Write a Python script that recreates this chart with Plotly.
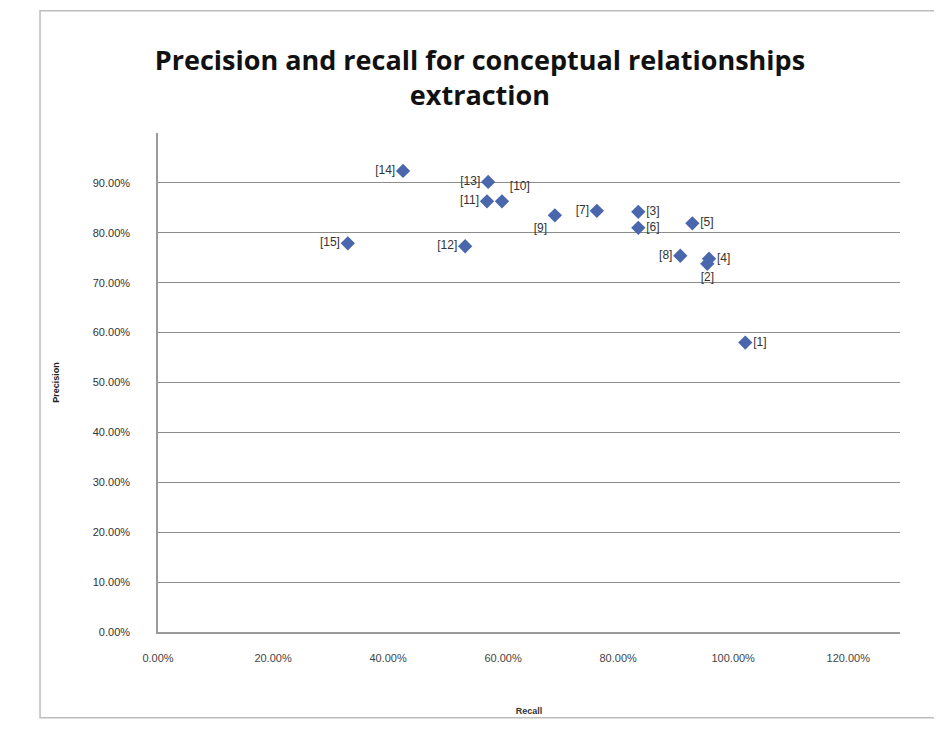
import plotly.graph_objects as go

# Data (recall, precision as fractions)
labels = ["[1]", "[2]", "[3]", "[4]", "[5]", "[6]", "[7]", "[8]",
          "[9]", "[10]", "[11]", "[12]", "[13]", "[14]", "[15]"]
recall = [1.021, 0.955, 0.835, 0.958, 0.929, 0.835, 0.763, 0.908,
          0.690, 0.598, 0.572, 0.534, 0.574, 0.426, 0.330]
precision = [0.580, 0.738, 0.842, 0.748, 0.819, 0.810, 0.844, 0.754,
             0.835, 0.863, 0.863, 0.773, 0.902, 0.924, 0.779]
label_pos = ["middle right", "bottom center", "middle right", "middle right",
             "middle right", "middle right", "middle left", "middle left",
             "bottom left", "top right", "middle left", "middle left",
             "middle left", "middle left", "middle left"]

x_ticks = [0, 0.2, 0.4, 0.6, 0.8, 1.0, 1.2]
y_ticks = [0, 0.1, 0.2, 0.3, 0.4, 0.5, 0.6, 0.7, 0.8, 0.9]

fig = go.Figure()
fig.add_trace(go.Scatter(
    x=recall, y=precision, mode="markers+text",
    text=labels, textposition=label_pos,
    textfont=dict(family="Liberation Sans", size=12, color="#333333"),
    marker=dict(symbol="diamond", size=11, color="#4A66AC",
                line=dict(width=0)),
    showlegend=False, cliponaxis=False,
))

fig.update_layout(
    width=942, height=731,
    paper_bgcolor="white", plot_bgcolor="white",
    margin=dict(l=150, r=50, t=125, b=107),
    title=dict(
        text="<b>Precision and recall for conceptual relationships<br>extraction</b>",
        x=0.501, xanchor="center", y=0.915, yanchor="top",
        font=dict(family="Open Sans", size=27, color="#111111"),
    ),
    xaxis=dict(
        range=[0, 1.29], tickvals=x_ticks, tickformat=".2%",
        showgrid=False, zeroline=False,
        showline=True, linecolor="#9a9a9a", linewidth=1.5,
        ticks="", ticklabelstandoff=15,
        tickfont=dict(family="Liberation Sans", size=11, color="#444444"),
        title=dict(text="<b>Recall</b>", standoff=45,
                   font=dict(family="Liberation Sans", size=9, color="#333333")),
    ),
    yaxis=dict(
        range=[0, 1.0], tickvals=y_ticks, tickformat=".2%",
        showgrid=True, gridcolor="#8c8c8c", gridwidth=1.2,
        zeroline=False, showline=True, linecolor="#9a9a9a", linewidth=1.5,
        ticks="", ticklabelstandoff=24,
        tickfont=dict(family="Liberation Sans", size=11, color="#333333"),
        title=dict(text="<b>Precision</b>", standoff=32,
                   font=dict(family="Liberation Sans", size=9, color="#222222")),
    ),
)

# chart area border
fig.add_shape(type="rect", xref="paper", yref="paper",
              x0=-0.159, x1=1.05, y0=-0.172, y1=1.245,
              line=dict(color="#bdbdbd", width=1.5))

fig.write_html("out.html")
